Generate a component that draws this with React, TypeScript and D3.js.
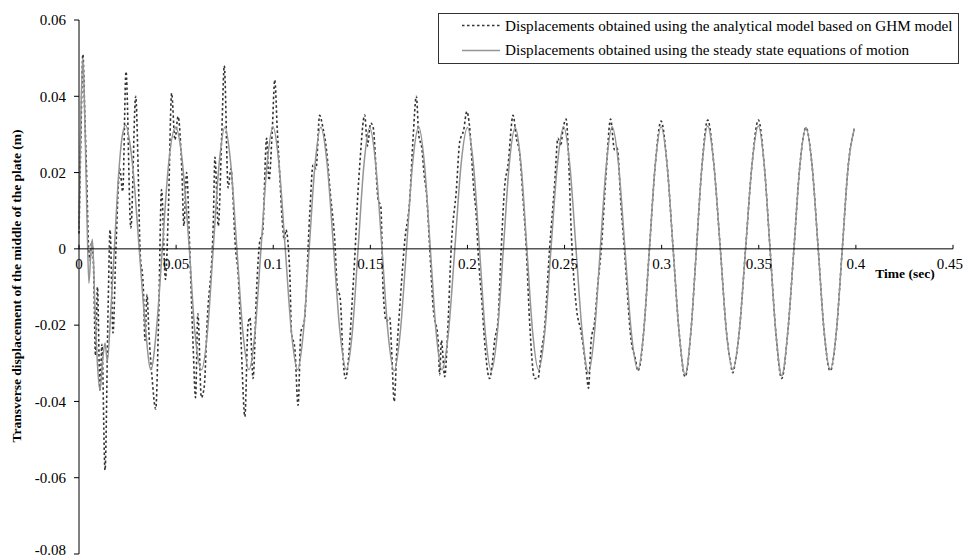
import React from "react";
import * as d3 from "d3";

const X_TICKS = [0, 0.05, 0.1, 0.15, 0.2, 0.25, 0.3, 0.35, 0.4, 0.45];
const X_TICK_LABELS = ["0", "0.05", "0.1", "0.15", "0.2", "0.25", "0.3", "0.35", "0.4", "0.45"];
const Y_TICKS = [0.06, 0.04, 0.02, 0, -0.02, -0.04, -0.06, -0.08];
const Y_TICK_LABELS = ["0.06", "0.04", "0.02", "0", "-0.02", "-0.04", "-0.06", "-0.08"];

const SERIES_NAMES = [
  "Displacements obtained using the analytical model based on GHM model",
  "Displacements obtained using the steady state equations of motion",
];

// Series 1: analytical model based on GHM model (dotted) [time s, displacement m]
const ghmPoints: [number, number][] = [
  [0.0000, 0.004], [0.0010, 0.030], [0.0020, 0.051], [0.0030, 0.035], [0.0040, 0.018],
  [0.0048, 0.002], [0.0057, -0.003], [0.0065, 0.002], [0.0075, -0.005], [0.0085, -0.028],
  [0.0095, -0.010], [0.0108, -0.037], [0.0118, -0.025], [0.0134, -0.058], [0.0150, -0.015],
  [0.0160, 0.005], [0.0175, -0.022], [0.0190, 0.000], [0.0210, 0.021], [0.0225, 0.015],
  [0.0242, 0.0465], [0.0267, 0.0055], [0.0292, 0.040], [0.0305, 0.020], [0.0314, 0.000],
  [0.0331, -0.010], [0.0340, -0.024], [0.0350, -0.012], [0.0360, -0.022], [0.0375, -0.033],
  [0.0395, -0.042], [0.0410, -0.018], [0.0425, 0.0155], [0.0445, -0.008], [0.0460, 0.010],
  [0.0477, 0.0408], [0.0494, 0.0286], [0.0510, 0.0347], [0.0530, 0.020], [0.0540, 0.006],
  [0.0554, 0.020], [0.0570, 0.000], [0.0588, -0.026], [0.0600, -0.039], [0.0612, -0.017],
  [0.0630, -0.039], [0.0645, -0.036], [0.0660, -0.019], [0.0691, 0.006], [0.0700, 0.024],
  [0.0717, 0.006], [0.0735, 0.030], [0.0748, 0.048], [0.0768, 0.016], [0.0782, 0.021],
  [0.0806, 0.000], [0.0820, -0.007], [0.0835, -0.025], [0.0854, -0.044], [0.0870, -0.020],
  [0.0880, -0.018], [0.0896, -0.034], [0.0915, -0.010], [0.0931, 0.002], [0.0945, 0.004],
  [0.0966, 0.029], [0.0978, 0.018], [0.0995, 0.031], [0.1008, 0.0443], [0.1021, 0.031],
  [0.1035, 0.018], [0.1046, 0.0076], [0.1057, 0.0024], [0.1065, 0.005], [0.1085, -0.006],
  [0.1094, -0.022], [0.1111, -0.026], [0.1128, -0.041], [0.1142, -0.022], [0.1160, -0.019],
  [0.1188, 0.009], [0.1205, 0.022], [0.1220, 0.021], [0.1239, 0.035], [0.1255, 0.032],
  [0.1274, 0.026], [0.1295, 0.014], [0.1317, 0.002], [0.1330, -0.010], [0.1345, -0.013],
  [0.1360, -0.029], [0.1372, -0.034], [0.1389, -0.028], [0.1405, -0.015], [0.1420, -0.002],
  [0.1437, 0.0155], [0.1445, 0.0216], [0.1471, 0.0351], [0.1485, 0.027], [0.1502, 0.033],
  [0.1514, 0.032], [0.1540, 0.013], [0.1554, 0.011], [0.1566, -0.011], [0.1583, -0.019],
  [0.1600, -0.018], [0.1609, -0.026], [0.1623, -0.040], [0.1635, -0.028], [0.1652, -0.015],
  [0.1677, 0.002], [0.1703, 0.013], [0.1720, 0.029], [0.1737, 0.040], [0.1749, 0.030],
  [0.1766, 0.026], [0.1776, 0.020], [0.1790, 0.014], [0.1806, 0.000], [0.1823, -0.015],
  [0.1849, -0.024], [0.1857, -0.033], [0.1866, -0.024], [0.1883, -0.0335], [0.1898, -0.022],
  [0.1917, 0.001], [0.1943, 0.0155], [0.1960, 0.028], [0.1980, 0.031], [0.1997, 0.036],
  [0.2011, 0.032], [0.2032, 0.016], [0.2045, 0.009], [0.2054, 0.000], [0.2076, -0.015],
  [0.2088, -0.024], [0.2114, -0.034], [0.2128, -0.030], [0.2140, -0.024], [0.2157, -0.019],
  [0.2174, 0.000], [0.2191, 0.016], [0.2209, 0.022], [0.2235, 0.035], [0.2252, 0.029],
  [0.2269, 0.025], [0.2285, 0.014], [0.2303, 0.000], [0.2320, -0.019], [0.2346, -0.034],
  [0.2363, -0.034], [0.2380, -0.027], [0.2395, -0.022], [0.2423, 0.000], [0.2449, 0.017],
  [0.2466, 0.029], [0.2480, 0.027], [0.2491, 0.031], [0.2508, 0.034], [0.2520, 0.025],
  [0.2534, 0.005], [0.2560, -0.015], [0.2586, -0.022], [0.2612, -0.032], [0.2623, -0.0365],
  [0.2637, -0.024], [0.2654, -0.0195], [0.2670, -0.010], [0.2689, 0.000], [0.2714, 0.020],
  [0.2737, 0.034], [0.2757, 0.026], [0.2771, 0.0264], [0.2790, 0.012], [0.2808, 0.000],
  [0.2843, -0.024], [0.2865, -0.029], [0.2877, -0.032], [0.2890, -0.030], [0.2907, -0.022],
  [0.2937, 0.000], [0.2967, 0.022], [0.2997, 0.0335], [0.3028, 0.022], [0.3059, 0.000],
  [0.3090, -0.022], [0.3121, -0.0335], [0.3150, -0.022], [0.3179, 0.000], [0.3208, 0.022],
  [0.3237, 0.0338], [0.3269, 0.022], [0.3302, 0.000], [0.3334, -0.022], [0.3355, -0.030],
  [0.3366, -0.0325], [0.3378, -0.030], [0.3399, -0.022], [0.3432, 0.000], [0.3465, 0.022],
  [0.3498, 0.0338], [0.3528, 0.022], [0.3558, 0.000], [0.3588, -0.022], [0.3618, -0.0340],
  [0.3649, -0.022], [0.3681, 0.000], [0.3712, 0.022], [0.3743, 0.0318], [0.3774, 0.022],
  [0.3806, 0.000], [0.3837, -0.022], [0.3868, -0.0320], [0.3899, -0.022], [0.3930, 0.000],
  [0.3961, 0.022], [0.3992, 0.0315],
];

// Series 2: steady state equations of motion (solid grey) [time s, displacement m]
const steadyPoints: [number, number][] = [
  [0.0000, 0.005], [0.0010, 0.036], [0.0020, 0.050], [0.0030, 0.034], [0.0042, 0.006],
  [0.0051, -0.009], [0.0060, -0.002], [0.0069, 0.0025], [0.0082, -0.015], [0.0096, -0.031],
  [0.0108, -0.037], [0.0122, -0.029], [0.0134, -0.0247], [0.0146, -0.0295], [0.0164, -0.016],
  [0.0182, 0.000], [0.0202, 0.018], [0.0220, 0.0286], [0.0240, 0.0325], [0.0262, 0.0277],
  [0.0280, 0.0198], [0.0310, 0.000], [0.0340, -0.0195], [0.0370, -0.0317], [0.0400, -0.0204],
  [0.0429, 0.000], [0.0460, 0.0216], [0.0497, 0.0319], [0.0525, 0.026], [0.0568, 0.000],
  [0.0597, -0.022], [0.0631, -0.0317],
  [0.0661, -0.022], [0.0691, 0.000], [0.0721, 0.022], [0.0751, 0.0319],
  [0.0782, 0.022], [0.0813, 0.000], [0.0844, -0.022], [0.0875, -0.0317],
  [0.0906, -0.022], [0.0937, 0.000], [0.0968, 0.022], [0.0999, 0.0320],
  [0.1030, 0.022], [0.1062, 0.000], [0.1094, -0.022], [0.1125, -0.0317],
  [0.1155, -0.022], [0.1185, 0.000], [0.1215, 0.022], [0.1245, 0.0319],
  [0.1278, 0.022], [0.1311, 0.000], [0.1344, -0.022], [0.1377, -0.0317],
  [0.1407, -0.022], [0.1437, 0.000], [0.1467, 0.022], [0.1497, 0.0318],
  [0.1528, 0.022], [0.1560, 0.000], [0.1591, -0.022], [0.1622, -0.0320],
  [0.1654, -0.022], [0.1686, 0.000], [0.1717, 0.022], [0.1749, 0.0320],
  [0.1779, 0.022], [0.1809, 0.000], [0.1839, -0.022], [0.1869, -0.0317],
  [0.1902, -0.022], [0.1935, 0.000], [0.1967, 0.022], [0.2000, 0.0318],
  [0.2031, 0.022], [0.2062, 0.000], [0.2092, -0.022], [0.2123, -0.0320],
  [0.2154, -0.022], [0.2185, 0.000], [0.2215, 0.022], [0.2246, 0.0318],
  [0.2276, 0.022], [0.2306, 0.000], [0.2336, -0.022], [0.2366, -0.0317],
  [0.2398, -0.022], [0.2430, 0.000], [0.2463, 0.022], [0.2495, 0.0320],
  [0.2527, 0.022], [0.2559, 0.000], [0.2591, -0.022], [0.2623, -0.0325],
  [0.2654, -0.022], [0.2684, 0.000], [0.2715, 0.022], [0.2745, 0.0320],
  [0.2778, 0.022], [0.2811, 0.000], [0.2844, -0.022], [0.2877, -0.0317],
  [0.2907, -0.022], [0.2937, 0.000], [0.2967, 0.022], [0.2997, 0.0320],
  [0.3028, 0.022], [0.3059, 0.000], [0.3090, -0.022], [0.3121, -0.0330],
  [0.3150, -0.022], [0.3179, 0.000], [0.3208, 0.022], [0.3237, 0.0322],
  [0.3269, 0.022], [0.3302, 0.000], [0.3334, -0.022], [0.3366, -0.0317],
  [0.3399, -0.022], [0.3432, 0.000], [0.3465, 0.022], [0.3498, 0.0322],
  [0.3528, 0.022], [0.3558, 0.000], [0.3588, -0.022], [0.3618, -0.0333],
  [0.3649, -0.022], [0.3681, 0.000], [0.3712, 0.022], [0.3743, 0.0318],
  [0.3774, 0.022], [0.3806, 0.000], [0.3837, -0.022], [0.3868, -0.0317],
  [0.3899, -0.022], [0.3930, 0.000], [0.3961, 0.022], [0.3992, 0.0315],
];

const FONT = "'Liberation Serif', 'Times New Roman', serif";

export default function App() {
  const W = 964;
  const H = 556;
  const x = d3.scaleLinear().domain([0, 0.45]).range([79, 953]);
  const y = d3.scaleLinear().domain([-0.08, 0.06]).range([554, 20]);
  const line = d3
    .line<[number, number]>()
    .x((d) => x(d[0]))
    .y((d) => y(d[1]))
    .curve(d3.curveMonotoneX);

  const y0 = y(0);
  const xAxisX0 = x(0);
  const lastX = X_TICKS.length - 1;
  const lastY = Y_TICKS.length - 1;

  return (
    <svg
      width={W}
      height={H}
      style={{ position: "absolute", left: 0, top: 0, background: "#fff" }}
      fontFamily={FONT}
    >
      <rect x={0} y={0} width={W} height={H} fill="#fff" />
      {/* Series */}
      <path
        d={line(ghmPoints) || ""}
        fill="none"
        stroke="#333"
        strokeWidth={1.6}
        strokeDasharray="2.5,2.5"
      />
      <path d={line(steadyPoints) || ""} fill="none" stroke="#959595" strokeWidth={1.5} />

      {/* Y axis */}
      <line x1={xAxisX0} x2={xAxisX0} y1={y(0.06)} y2={y(-0.08)} stroke="#000" strokeWidth={1} />
      {Y_TICKS.map((t, i) => (
        <g key={"yt" + i}>
          <line x1={xAxisX0 - 5} x2={xAxisX0} y1={y(t)} y2={y(t)} stroke="#000" strokeWidth={1} />
          <text
            x={66}
            y={i === lastY ? H - 1.5 : y(t)}
            dy={i === lastY ? "0" : "0.35em"}
            textAnchor="end"
            fontSize={15}
            fill="#000"
          >
            {Y_TICK_LABELS[i]}
          </text>
        </g>
      ))}

      {/* X axis at zero */}
      <line x1={xAxisX0} x2={x(0.45)} y1={y0} y2={y0} stroke="#000" strokeWidth={1} />
      {X_TICKS.map((t, i) => (
        <g key={"xt" + i}>
          <line x1={x(t)} x2={x(t)} y1={y0 - 4} y2={y0} stroke="#000" strokeWidth={1} />
          <text
            x={i === lastX ? W - 1 : x(t)}
            y={y0 + 20}
            textAnchor={i === lastX ? "end" : "middle"}
            fontSize={15}
            fill="#000"
          >
            {X_TICK_LABELS[i]}
          </text>
        </g>
      ))}

      <text x={905} y={278} textAnchor="middle" fontSize={13.5} fontWeight="bold" fill="#000">
        Time (sec)
      </text>
      <text
        transform={`translate(21, 286) rotate(-90)`}
        textAnchor="middle"
        fontSize={13.5}
        fontWeight="bold"
        fill="#000"
      >
        Transverse displacement of the middle of the plate (m)
      </text>

      {/* Legend */}
      <rect x={438.5} y={13.5} width={520} height={50} fill="#fff" stroke="#333" strokeWidth={1} />
      <line x1={462} x2={500} y1={25.5} y2={25.5} stroke="#333" strokeWidth={1.6} strokeDasharray="2.5,2.5" />
      <text x={505} y={30.5} fontSize={15.2} fill="#000">
        {SERIES_NAMES[0]}
      </text>
      <line x1={462} x2={500} y1={50.5} y2={50.5} stroke="#959595" strokeWidth={1.5} />
      <text x={505} y={55} fontSize={15.2} fill="#000">
        {SERIES_NAMES[1]}
      </text>
    </svg>
  );
}
